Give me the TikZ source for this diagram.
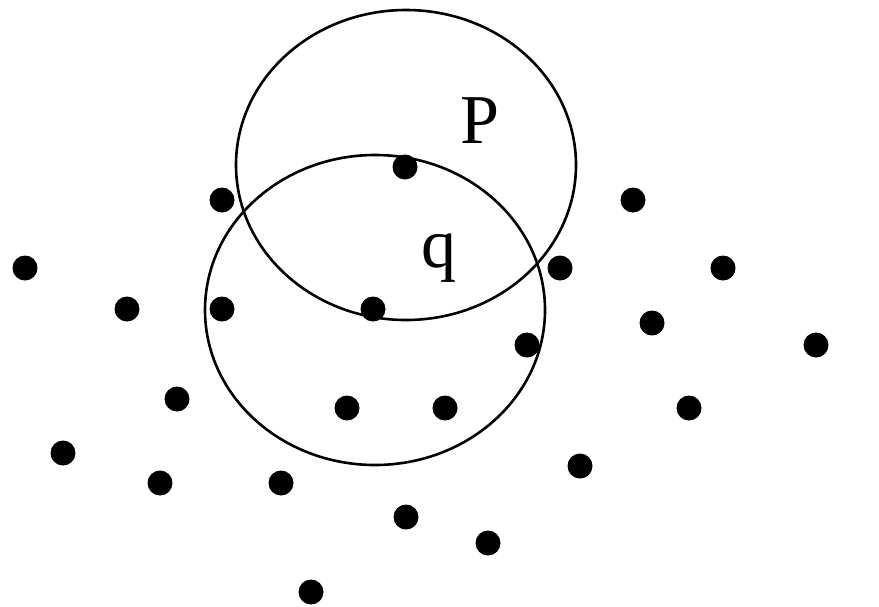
\documentclass[tikz,border=0pt]{standalone}
\usepackage{fontspec}
\setmainfont{Liberation Serif}
\begin{document}
\begin{tikzpicture}[x=1pt,y=-1pt,
  dot/.style={circle,fill=black,draw=none,minimum size=25pt,inner sep=0pt},
  ring/.style={draw=black,line width=2.6pt},
  lbl/.style={inner sep=0pt,anchor=base,font=\fontsize{70}{70}\selectfont}]
\useasboundingbox (0,0) rectangle (879,606);
\fill[white] (0,0) rectangle (879,606);
% circles
\draw[ring] (406,165) ellipse [x radius=170, y radius=155];
\draw[ring] (375,310) ellipse [x radius=170, y radius=155];
% labels
\node[lbl] (P) at (480,143) {P};
\node[lbl] (q) at (439,267) {q};
% dots
\node[dot] (d1) at (222,200) {};
\node[dot] (d2) at (405,167) {};
\node[dot] (d3) at (633,200) {};
\node[dot] (d4) at (25,268) {};
\node[dot] (d5) at (560,268) {};
\node[dot] (d6) at (723,268) {};
\node[dot] (d7) at (127,309) {};
\node[dot] (d8) at (222,309) {};
\node[dot] (d9) at (373,309) {};
\node[dot] (d10) at (652,323) {};
\node[dot] (d11) at (527,345) {};
\node[dot] (d12) at (816,345) {};
\node[dot] (d13) at (177,399) {};
\node[dot] (d14) at (347,408) {};
\node[dot] (d15) at (445,408) {};
\node[dot] (d16) at (689,408) {};
\node[dot] (d17) at (63,453) {};
\node[dot] (d18) at (160,483) {};
\node[dot] (d19) at (281,483) {};
\node[dot] (d20) at (580,466) {};
\node[dot] (d21) at (406,517) {};
\node[dot] (d22) at (488,543) {};
\node[dot] (d23) at (311,592) {};
\end{tikzpicture}
\end{document}
